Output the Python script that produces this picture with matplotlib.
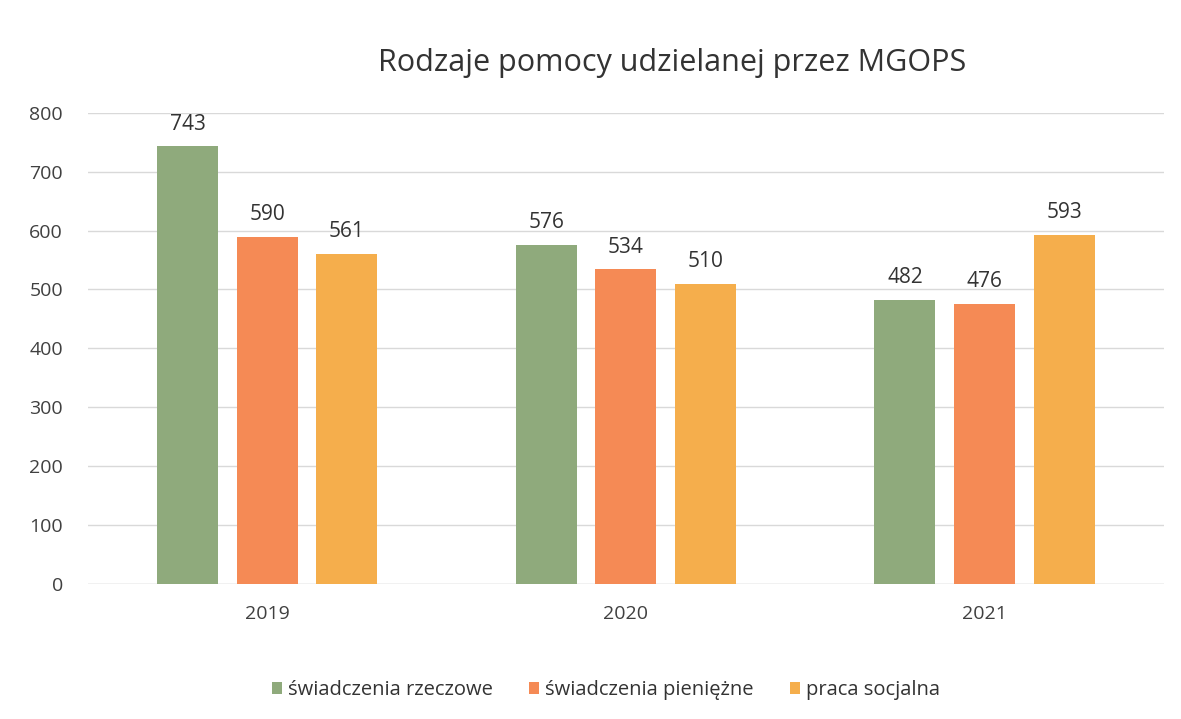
import numpy as np
import matplotlib.pyplot as plt

years = ['2019', '2020', '2021']
series_names = ['świadczenia rzeczowe', 'świadczenia pieniężne', 'praca socjalna']
rzeczowe = [743, 576, 482]
pieniezne = [590, 534, 476]
socjalna = [561, 510, 593]
colors = ['#8FAA7C', '#F58A55', '#F5AE4C']

plt.rcParams['font.family'] = ['Open Sans', 'DejaVu Sans']

fig = plt.figure(figsize=(11.81, 7.19), dpi=100, facecolor='white')
ax = fig.add_axes([0.0745, 0.188, 0.911, 0.655])

x = np.arange(len(years))
width = 0.17
step = 0.222
for i, (vals, name, col) in enumerate(zip([rzeczowe, pieniezne, socjalna], series_names, colors)):
    pos = x + (i - 1) * step
    ax.bar(pos, vals, width, color=col, label=name, zorder=3)
    for xp, v in zip(pos, vals):
        ax.text(xp, v + 20, str(v), ha='center', va='bottom', fontsize=15, color='#333333')

ax.set_xlim(-0.5, 2.5)
ax.set_ylim(0, 800)
ax.set_yticks(range(0, 801, 100))
ax.set_xticks(x)
ax.set_xticklabels(years)
ax.tick_params(axis='both', length=0, labelsize=14, colors='#404040')
ax.tick_params(axis='y', pad=18)
ax.tick_params(axis='x', pad=15)
ax.grid(axis='y', color='#D9D9D9', linewidth=1, zorder=0)
for s in ax.spines.values():
    s.set_visible(False)
ax.axhline(0, color='#D9D9D9', linewidth=1, zorder=1)

fig.text(0.569, 0.913, 'Rodzaje pomocy udzielanej przez MGOPS', ha='center', va='center',
         fontsize=22, color='#333333')

fig.legend(loc='center', bbox_to_anchor=(0.513, 0.04), ncol=3, frameon=False, fontsize=14.5,
           handlelength=0.5, handleheight=0.5, handletextpad=0.3, columnspacing=1.8,
           labelcolor='#333333')

fig.savefig('out.png', dpi=100, facecolor='white')
